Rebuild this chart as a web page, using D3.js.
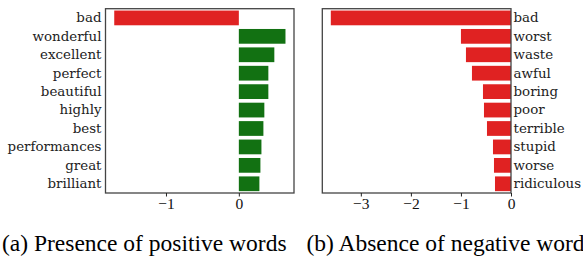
<!DOCTYPE html>
<html><head><meta charset="utf-8">
<script src="https://cdn.jsdelivr.net/npm/d3@7"></script>
<style>body{margin:0;background:#fff}svg{display:block}
.ylab{font-family:"DejaVu Serif",serif}
.xlab{font-family:"Liberation Serif",serif}
.cap{font-family:"Liberation Serif",serif}
</style>
</head><body>
<svg id="c" width="583" height="257"></svg>
<script>
const posWords = ["bad","wonderful","excellent","perfect","beautiful","highly","best","performances","great","brilliant"];
const posValues = [-1.71,0.64,0.487,0.405,0.405,0.35,0.337,0.31,0.296,0.282];
const negWords = ["bad","worst","waste","awful","boring","poor","terrible","stupid","worse","ridiculous"];
const negValues = [-3.6,-1.0,-0.9,-0.78,-0.56,-0.54,-0.48,-0.36,-0.34,-0.32];
const posTicks = [-1,0];
const negTicks = [-3,-2,-1,0];
const captions = ["(a) Presence of positive words","(b) Absence of negative words"];

const RED = "#e02222", GREEN = "#127112", FRAME = "#444";
const svg = d3.select("#c");
const plotTop = 8.7, plotBottom = 193;

function panel(words, values, ticks, x0, x1, domain, labelSide, colorFn) {
  const g = svg.append("g");
  const x = d3.scaleLinear().domain(domain).range([x0, x1]);
  const y = d3.scaleBand().domain(words).range([plotTop, plotBottom]).paddingInner(0.2).paddingOuter(0.1);
  g.selectAll("rect.bar").data(words).join("rect")
    .attr("x", (d,i) => Math.min(x(0), x(values[i])))
    .attr("width", (d,i) => Math.abs(x(values[i]) - x(0)))
    .attr("y", d => y(d)).attr("height", y.bandwidth())
    .attr("fill", (d,i) => colorFn(values[i]));
  g.append("rect").attr("x", x0).attr("y", plotTop).attr("width", x1 - x0).attr("height", plotBottom - plotTop)
    .attr("fill", "none").attr("stroke", FRAME).attr("stroke-width", 1.3);
  const xa = g.append("g").attr("transform", `translate(0,${plotBottom})`)
    .call(d3.axisBottom(x).tickValues(ticks).tickSize(3.5).tickPadding(1.5).tickFormat(d => d < 0 ? "\u2212" + Math.abs(d) : d));
  xa.attr("font-family", null).attr("font-size", null);
  xa.select(".domain").remove();
  xa.selectAll("line").attr("stroke", "#222").attr("stroke-width", 1);
  xa.selectAll("text").attr("class", "xlab").style("font-size", "15.5px").attr("fill", "#111");
  const ya = g.append("g").attr("transform", `translate(${labelSide === "left" ? x0 : x1},0)`)
    .call((labelSide === "left" ? d3.axisLeft(y) : d3.axisRight(y)).tickSize(0).tickPadding(labelSide === "left" ? 4 : 2.5));
  ya.attr("font-family", null).attr("font-size", null);
  ya.select(".domain").remove();
  ya.selectAll("text").attr("class", "ylab").style("font-size", "13.4px").attr("fill", "#222");
}

panel(posWords, posValues, posTicks, 105.5, 294, [-1.83, 0.757], "left", v => v < 0 ? RED : GREEN);
panel(negWords, negValues, negTicks, 322.3, 511, [-3.77, 0], "right", () => RED);

svg.selectAll("text.cap").data(captions).join("text").attr("class", "cap")
  .attr("x", (d,i) => i === 0 ? 2 : 306.5).attr("y", 251)
  .style("font-size", "23.5px")
  .attr("fill", "#000").text(d => d);
</script>
</body></html>
